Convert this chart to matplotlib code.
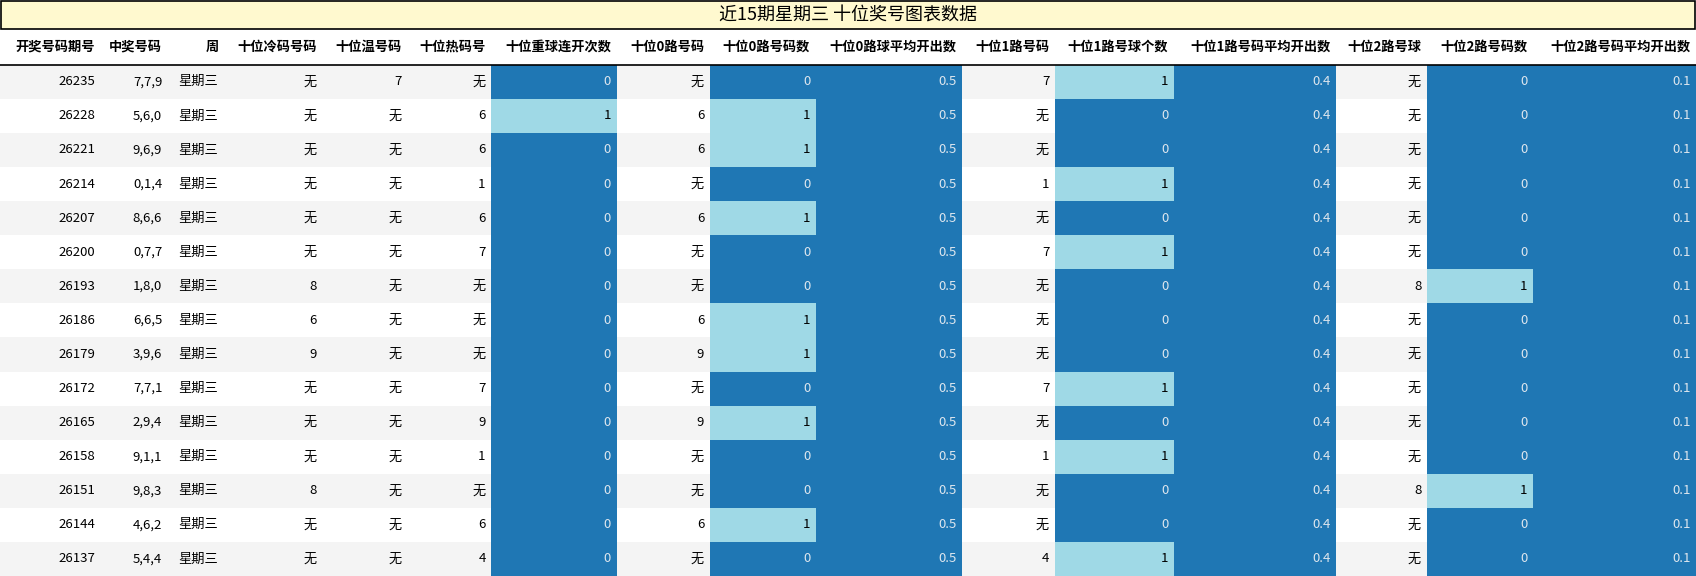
import matplotlib
matplotlib.use("Agg")
import matplotlib.pyplot as plt
from matplotlib.patches import Rectangle

plt.rcParams['font.family'] = ['Noto Sans CJK SC', 'DejaVu Sans']

title = "近15期星期三 十位奖号图表数据"
headers = ["开奖号码期号", "中奖号码", "周", "十位冷码号码", "十位温号码", "十位热码号", "十位重球连开次数",
           "十位0路号码", "十位0路号码数", "十位0路球平均开出数", "十位1路号码", "十位1路号球个数",
           "十位1路号码平均开出数", "十位2路号球", "十位2路号码数", "十位2路号码平均开出数"]
issues = ["26235","26228","26221","26214","26207","26200","26193","26186","26179","26172","26165","26158","26151","26144","26137"]
numbers = ["7,7,9","5,6,0","9,6,9","0,1,4","8,6,6","0,7,7","1,8,0","6,6,5","3,9,6","7,7,1","2,9,4","9,1,1","9,8,3","4,6,2","5,4,4"]
week = ["星期三"] * 15
cold = ["无","无","无","无","无","无","8","6","9","无","无","无","8","无","无"]
warm = ["7","无","无","无","无","无","无","无","无","无","无","无","无","无","无"]
hot = ["无","6","6","1","6","7","无","无","无","7","9","1","无","6","4"]
repeat = [0,1,0,0,0,0,0,0,0,0,0,0,0,0,0]
r0_num = ["无","6","6","无","6","无","无","6","9","无","9","无","无","6","无"]
r0_cnt = [0,1,1,0,1,0,0,1,1,0,1,0,0,1,0]
r0_avg = [0.5] * 15
r1_num = ["7","无","无","1","无","7","无","无","无","7","无","1","无","无","4"]
r1_cnt = [1,0,0,1,0,1,0,0,0,1,0,1,0,0,1]
r1_avg = [0.4] * 15
r2_num = ["无","无","无","无","无","无","8","无","无","无","无","无","8","无","无"]
r2_cnt = [0,0,0,0,0,0,1,0,0,0,0,0,1,0,0]
r2_avg = [0.1] * 15

columns = [issues, numbers, week, cold, warm, hot, repeat, r0_num, r0_cnt, r0_avg,
           r1_num, r1_cnt, r1_avg, r2_num, r2_cnt, r2_avg]
heat_cols = {6, 8, 9, 11, 12, 14, 15}

S = 1696 / 1568
edges = [0, 93, 155, 207, 298, 376, 454, 570, 656, 754, 889, 975, 1085, 1235, 1319, 1417, 1568]
W, H = 1568, 533.5
fig = plt.figure(figsize=(16.96, 5.76), dpi=100)
ax = fig.add_axes([0, 0, 1, 1])
ax.set_xlim(0, W); ax.set_ylim(H, 0); ax.axis('off')

DARK, LIGHT = '#1f77b4', '#9fd9e6'
fs = 9.5
ax.add_patch(Rectangle((0.5, 0.5), W - 1, 26, facecolor='#fff9cf', edgecolor='black', lw=1.2))
ax.text(W / 2, 14, title, ha='center', va='center', fontsize=13)
hy = 43.5
for j, h in enumerate(headers):
    ax.text(edges[j + 1] - 5, hy, h, ha='right', va='center', fontsize=fs, fontweight='bold')
ax.plot([0, W], [60, 60], color='black', lw=1.2)
rh = (H - 60) / 15
for i in range(15):
    y0 = 60 + i * rh
    if i % 2 == 0:
        ax.add_patch(Rectangle((0, y0), W, rh, facecolor='#f4f4f4', edgecolor='none'))
    for j, col in enumerate(columns):
        v = col[i]
        color = 'black'
        if j in heat_cols:
            mx = max(col); mn = min(col)
            light = (mx > mn and v == mx)
            ax.add_patch(Rectangle((edges[j], y0), edges[j + 1] - edges[j], rh,
                                   facecolor=LIGHT if light else DARK, edgecolor='none'))
            color = 'black' if light else '#dde6ee'
        ax.text(edges[j + 1] - 5, y0 + rh / 2, str(v), ha='right', va='center', fontsize=fs, color=color)

fig.savefig('out.png', dpi=100)
